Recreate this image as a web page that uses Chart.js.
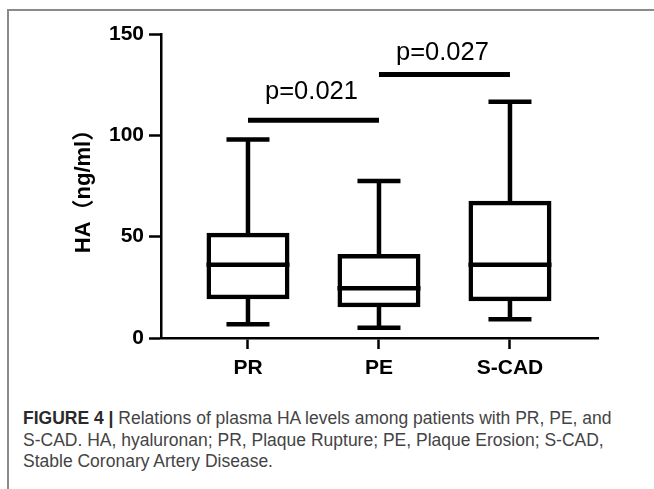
<!DOCTYPE html>
<html>
<head>
<meta charset="utf-8">
<script src="https://cdn.jsdelivr.net/npm/chart.js@4.4.1/dist/chart.umd.min.js"></script>
<style>
html,body{margin:0;padding:0;background:#fff;}
#wrap{position:relative;width:654px;height:489px;overflow:hidden;background:#fff;}
#frame{position:absolute;left:7px;top:9px;width:700px;height:520px;border-left:2px solid #8a8a8a;border-top:2px solid #8a8a8a;}
#cv{position:absolute;left:0;top:0;width:654px;height:400px;}
#cap{position:absolute;left:23px;top:408px;font-family:"Liberation Sans",Arial,sans-serif;font-size:17.5px;line-height:21.5px;color:#444;white-space:nowrap;}
#cap b{color:#2a2a2a;}
</style>
</head>
<body>
<div id="wrap">
  <div id="frame"></div>
  <div id="cv"><canvas id="c"></canvas></div>
  <div id="cap"><b>FIGURE 4 |</b> Relations of plasma HA levels among patients with PR, PE, and<br>S-CAD. HA, hyaluronan; PR, Plaque Rupture; PE, Plaque Erosion; S-CAD,<br>Stable Coronary Artery Disease.</div>
</div>
<script>
// ---- data ----
const categories = ['PR', 'PE', 'S-CAD'];
const minVals    = [6.8, 5.1, 9.2];
const q1Vals     = [20.2, 16.3, 19.2];
const medianVals = [36.1, 24.6, 36.1];
const q3Vals     = [50.8, 40.3, 66.6];
const maxVals    = [97.9, 77.5, 116.6];
const yTickValues = [0, 50, 100, 150];
const yAxisTitle = 'HA（ng/ml）';
const comparisonPairs = [[0, 1], [1, 2]];
const comparisonY = [107.5, 130];
const pLabels = ['p=0.021', 'p=0.027'];

const FONT = '"Liberation Sans", Arial, "Noto Sans CJK SC", sans-serif';
const positions = categories.map((c, i) => i + 1);

const whiskerData = categories.map((c, i) => ({ x: positions[i], y: [minVals[i], maxVals[i]] }));
const boxData = categories.map((c, i) => ({ x: positions[i], y: [q1Vals[i], q3Vals[i]] }));

const boxExtras = {
  id: 'boxExtras',
  afterDatasetsDraw(chart, args, opts) {
    const { ctx, scales: { x, y } } = chart;
    ctx.save();
    ctx.strokeStyle = '#000';
    ctx.lineCap = 'butt';
    categories.forEach((c, i) => {
      const xc = x.getPixelForValue(positions[i]);
      ctx.lineWidth = opts.medianWidth;
      const ym = y.getPixelForValue(medianVals[i]);
      ctx.beginPath(); ctx.moveTo(xc - opts.boxHalf, ym); ctx.lineTo(xc + opts.boxHalf, ym); ctx.stroke();
      ctx.lineWidth = opts.capWidth;
      [minVals[i], maxVals[i]].forEach(v => {
        const yy = y.getPixelForValue(v);
        ctx.beginPath(); ctx.moveTo(xc - opts.capHalf, yy); ctx.lineTo(xc + opts.capHalf, yy); ctx.stroke();
      });
    });
    comparisonPairs.forEach((pair, k) => {
      const x1 = x.getPixelForValue(positions[pair[0]]);
      const x2 = x.getPixelForValue(positions[pair[1]]);
      const yy = y.getPixelForValue(comparisonY[k]);
      ctx.lineWidth = opts.sigWidth;
      ctx.beginPath(); ctx.moveTo(x1, yy); ctx.lineTo(x2, yy); ctx.stroke();
      ctx.fillStyle = '#000';
      ctx.font = opts.sigFont;
      ctx.textAlign = 'center';
      ctx.textBaseline = 'alphabetic';
      ctx.fillText(pLabels[k], (x1 + x2) / 2 - 2, yy - opts.labelOffsets[k]);
    });
    ctx.restore();
  }
};

new Chart(document.getElementById('c'), {
  type: 'bar',
  data: {
    datasets: [
      {
        label: 'box',
        data: boxData,
        backgroundColor: '#fff',
        borderColor: '#000',
        borderWidth: 4.5,
        borderSkipped: false,
        inflateAmount: 2.25,
        barThickness: 78.5,
        grouped: false,
        order: 1
      },
      {
        label: 'whisker',
        data: whiskerData,
        backgroundColor: '#000',
        borderWidth: 0,
        inflateAmount: 0,
        barThickness: 4.5,
        grouped: false,
        order: 2
      }
    ]
  },
  options: {
    responsive: true,
    maintainAspectRatio: false,
    animation: false,
    layout: { padding: { left: 71, top: 34, right: 56, bottom: 0 } },
    plugins: {
      legend: { display: false },
      tooltip: { enabled: false },
      boxExtras: {
        boxHalf: 41.5, capHalf: 21.5, medianWidth: 4.5, capWidth: 4.5, sigWidth: 5,
        sigFont: '25.5px ' + FONT, labelOffsets: [21, 15]
      }
    },
    scales: {
      x: {
        type: 'linear',
        min: 0.336,
        max: 3.672,
        offset: false,
        afterBuildTicks: s => { s.ticks = positions.map(v => ({ value: v })); },
        afterFit: s => { s.height = 62; },
        ticks: {
          callback: v => categories[v - 1],
          font: { family: FONT, size: 21, weight: 'bold' },
          color: '#000',
          padding: 7,
          maxRotation: 0,
          autoSkip: false
        },
        grid: { display: true, drawOnChartArea: false, offset: false, tickLength: 11, tickWidth: 2.5, tickColor: '#000' },
        border: { display: true, color: '#000', width: 2.5 }
      },
      y: {
        min: 0,
        max: 150,
        afterBuildTicks: s => { s.ticks = yTickValues.map(v => ({ value: v })); },
        afterFit: s => { s.width = 90; },
        ticks: {
          font: { family: FONT, size: 21, weight: 'bold' },
          color: '#000',
          padding: 5
        },
        grid: { display: true, drawOnChartArea: false, tickLength: 12, tickWidth: 2.5, tickColor: '#000' },
        border: { display: true, color: '#000', width: 2.5 },
        title: {
          display: true,
          text: yAxisTitle,
          font: { family: FONT, size: 22, weight: 'bold' },
          color: '#000',
          padding: { top: 0, bottom: 0 }
        }
      }
    }
  },
  plugins: [boxExtras]
});
</script>
</body>
</html>
